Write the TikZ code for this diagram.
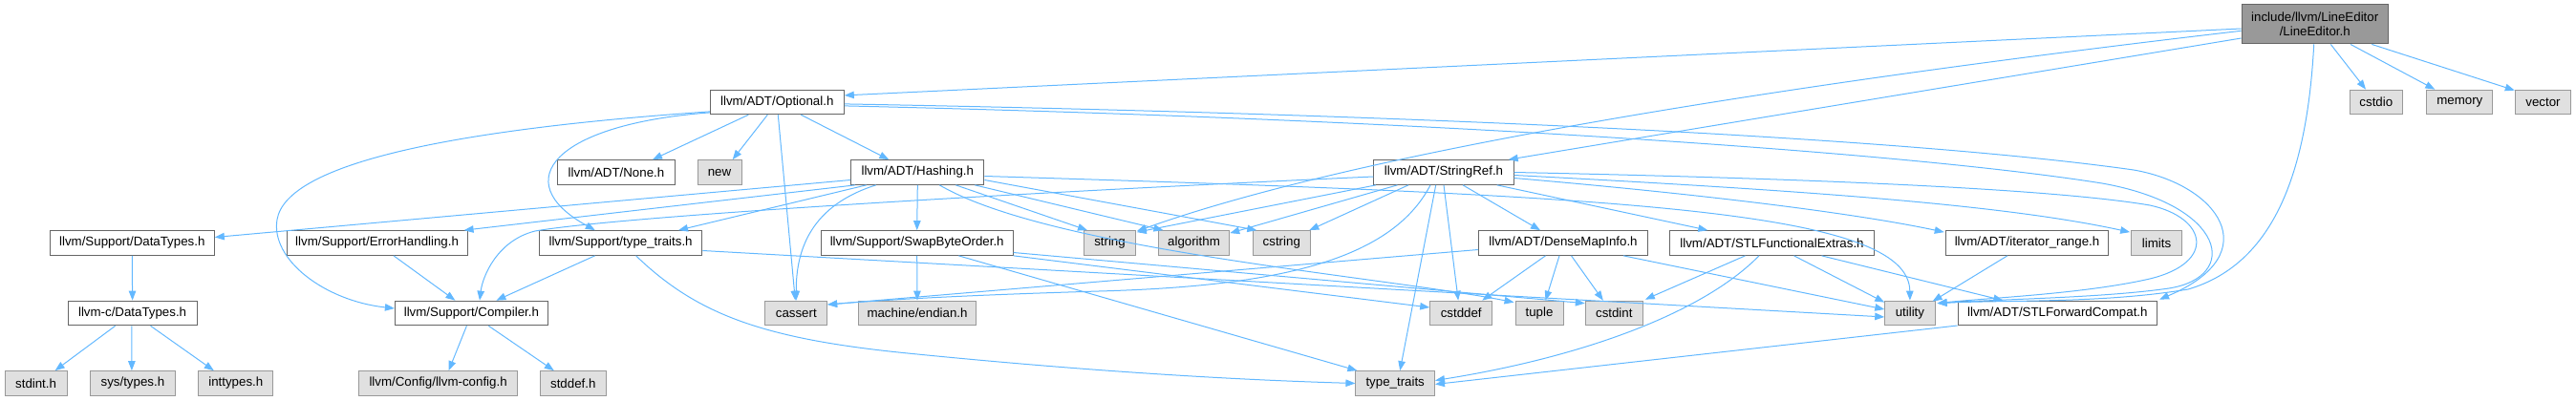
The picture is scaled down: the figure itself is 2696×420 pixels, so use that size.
\documentclass[tikz,border=0pt]{standalone}
\usepackage{fontspec}
\setmainfont{Liberation Sans}
\usetikzlibrary{arrows.meta,calc}
\definecolor{eb}{HTML}{63B8FF}
\definecolor{bdark}{HTML}{666666}
\definecolor{bext}{HTML}{999999}
\definecolor{fext}{HTML}{E0E0E0}
\definecolor{fmain}{HTML}{999999}
\tikzset{
  hdr/.style={draw=bdark, fill=white, line width=1pt, minimum height=25.7pt, inner sep=0pt,
    minimum width=#1, font=\fontsize{13.3}{15.3}\selectfont, text=black},
  sys/.style={hdr=#1, draw=bext, fill=fext},
  mainf/.style={hdr=#1, draw=bdark, fill=fmain},
  e/.style={draw=eb, line width=1pt, -{Triangle[length=10pt,width=7.5pt]}},
}
\begin{document}
\begin{tikzpicture}[x=1pt,y=-1pt]
\useasboundingbox (0,0) rectangle (2696,420);
% row 0
\node[mainf=153.3pt, minimum height=41.3pt, align=center] (le) at (2422.7,25.3) {include/llvm/LineEditor\\/LineEditor.h};
% row 1
\node[hdr=140pt] (opt) at (813.3,106.9) {llvm/ADT/Optional.h};
\node[sys=55pt] (cstdio) at (2486.8,107) {cstdio};
\node[sys=68.7pt] (memory) at (2574.3,107) {memory};
\node[sys=58.4pt] (vector) at (2661.5,107) {vector};
% row 2
\node[hdr=123pt] (none) at (645,180.5) {llvm/ADT/None.h};
\node[sys=46pt] (new) at (753,180.5) {new};
\node[hdr=139.3pt] (hash) at (960.3,180.5) {llvm/ADT/Hashing.h};
\node[hdr=146.4pt] (sref) at (1511,180.5) {llvm/ADT/StringRef.h};
% row 3
\node[hdr=172pt] (dtypes) at (138.3,254.5) {llvm/Support/DataTypes.h};
\node[hdr=189pt] (err) at (394.6,254.5) {llvm/Support/ErrorHandling.h};
\node[hdr=170.6pt] (tt) at (649.6,254.5) {llvm/Support/type\_traits.h};
\node[hdr=200.7pt] (swap) at (959.7,254.5) {llvm/Support/SwapByteOrder.h};
\node[sys=53.6pt] (string) at (1161.5,254.5) {string};
\node[sys=74.5pt] (algorithm) at (1249.5,254.5) {algorithm};
\node[sys=60.2pt] (cstring) at (1341.3,254.5) {cstring};
\node[hdr=177pt] (dmi) at (1636,254.5) {llvm/ADT/DenseMapInfo.h};
\node[hdr=213.3pt] (sfe) at (1854.5,254.5) {llvm/ADT/STLFunctionalExtras.h};
\node[hdr=170.5pt] (iter) at (2121.5,254.5) {llvm/ADT/iterator\_range.h};
\node[sys=52.7pt] (limits) at (2257,254.5) {limits};
% row 4
\node[hdr=134.8pt] (ctypes) at (138.6,328) {llvm-c/DataTypes.h};
\node[hdr=160pt] (comp) at (493.4,328) {llvm/Support/Compiler.h};
\node[sys=64.7pt] (cassert) at (833.3,328) {cassert};
\node[sys=123.4pt] (endian) at (960,328) {machine/endian.h};
\node[sys=65pt] (cstddef) at (1529.2,328) {cstddef};
\node[sys=50pt] (tuple) at (1611,328) {tuple};
\node[sys=60pt] (cstdint) at (1689.3,328) {cstdint};
\node[sys=52.3pt] (utility) at (1998.9,328) {utility};
\node[hdr=208.5pt] (sfc) at (2153.3,328) {llvm/ADT/STLForwardCompat.h};
% row 5
\node[sys=64.8pt] (stdint) at (37.6,401.5) {stdint.h};
\node[sys=89.6pt] (systypes) at (138.9,401.5) {sys/types.h};
\node[sys=78pt] (inttypes) at (246.8,401.5) {inttypes.h};
\node[sys=165.3pt] (llvmconfig) at (458.6,401.5) {llvm/Config/llvm-config.h};
\node[sys=68.9pt] (stddef) at (599.8,401.5) {stddef.h};
\node[sys=82.6pt] (ttstd) at (1460.2,401.5) {type\_traits};

% ---- LineEditor.h
\draw[e] ($(le.west)+(0,4.7)$) -- ($(opt.east)+(0,-7)$);
\draw[e] ($(le.west)+(0,7)$) .. controls (1850,90) and (1420,160) .. ($(string.north east)+(1,1)$);
\draw[e] ($(le.west)+(0,14.7)$) -- ($(sref.north east)+(-6,0)$);
\draw[e] ($(le.south)+(16.6,0)$) -- ($(cstdio.north)+(-10.8,0)$);
\draw[e] ($(le.south)+(37.3,0)$) -- ($(memory.north)+(-26,0)$);
\draw[e] ($(le.south)+(59.6,0)$) -- ($(vector.north west)+(0,1)$);
\draw[e] ($(le.south)+(-1,0)$) .. controls (2415,170) and (2385,275) .. (2290,303) .. controls (2200,318) and (2100,314) .. ($(utility.north east)+(2,3)$);
% ---- Optional.h
\draw[e] ($(opt.south)+(-30,0)$) -- ($(none.north)+(38,0)$);
\draw[e] ($(opt.south)+(-10,0)$) -- ($(new.north)+(13.7,0)$);
\draw[e] ($(opt.south)+(1,0)$) -- ($(cassert.north)+(-1,0)$);
\draw[e] ($(opt.south)+(25,0)$) -- ($(hash.north)+(-30,0)$);
\draw[e] ($(opt.west)+(0,10)$) .. controls (480,135) and (300,170) .. (290,230) .. controls (283,272) and (340,315) .. ($(comp.west)+(0,-5)$);
\draw[e] ($(opt.west)+(0,11)$) .. controls (580,130) and (530,190) .. ($(tt.north)+(-26.8,0)$);
\draw[e] ($(opt.east)+(0,2)$) .. controls (1500,120) and (2000,145) .. (2233,178) .. controls (2320,193) and (2375,265) .. ($(sfc.north east)+(2,-1)$);
\draw[e] ($(opt.east)+(0,4)$) .. controls (1500,125) and (2000,160) .. (2200,192) .. controls (2330,215) and (2345,290) .. (2270,302) .. controls (2200,312) and (2100,313) .. ($(utility.north east)+(2,3)$);
% ---- Hashing.h
\draw[e] ($(hash.west)+(0,8)$) -- ($(dtypes.east)+(0,-6)$);
\draw[e] ($(hash.south west)+(5,0)$) -- ($(err.north east)+(-4,0)$);
\draw[e] ($(hash.south)+(-53.6,0)$) -- ($(tt.north)+(60.4,0)$);
\draw[e] (hash.south) -- (swap.north);
\draw[e] ($(hash.south)+(-43.6,0)$) .. controls (850,215) and (833,260) .. (cassert.north);
\draw[e] ($(hash.south)+(40,0)$) -- ($(string.north)+(-23.5,0)$);
\draw[e] ($(hash.south)+(60,0)$) -- ($(algorithm.north)+(-32,0)$);
\draw[e] ($(hash.east)+(0,8)$) -- ($(cstring.north)+(-26,0)$);
\draw[e] ($(hash.south)+(23,0)$) .. controls (1100,262) and (1450,290) .. ($(tuple.north west)+(-1,2)$);
\draw[e] ($(hash.east)+(0,4)$) .. controls (1700,205) and (1998,220) .. (utility.north);
% ---- StringRef.h
\draw[e] ($(sref.south)+(20,0)$) -- ($(dmi.north)+(-24,0)$);
\draw[e] ($(sref.south east)+(-18,0)$) -- ($(sfe.north west)+(40,0)$);
\draw[e] ($(sref.east)+(0,6)$) .. controls (1800,205) and (1950,225) .. ($(iter.north west)+(-1,2)$);
\draw[e] ($(sref.east)+(0,3)$) .. controls (1900,200) and (2100,215) .. ($(limits.north west)+(-1,2)$);
\draw[e] (sref.east) .. controls (1900,187) and (2150,198) .. (2250,215) .. controls (2310,228) and (2320,275) .. (2250,292) .. controls (2180,308) and (2080,312) .. ($(utility.north east)+(2,3)$);
\draw[e] ($(sref.south)+(-37,0)$) -- ($(cstring.north)+(29,0)$);
\draw[e] ($(sref.south)+(-48.5,0)$) -- ($(algorithm.north east)+(0,3)$);
\draw[e] ($(sref.south)+(-71,0)$) -- ($(string.north east)+(1,2)$);
\draw[e] ($(sref.south)+(-8.3,0)$) -- ($(ttstd.north)+(5,0)$);
\draw[e] (sref.south) -- ($(cstddef.north)+(-3,0)$);
\draw[e] ($(sref.south)+(-14,0)$) .. controls (1455,275) and (1330,300) .. (1150,305) .. controls (1050,308) and (950,312) .. ($(cassert.east)+(0,-9)$);
\draw[e] ($(sref.west)+(0,4.5)$) .. controls (1000,205) and (640,228) .. (560,242) .. controls (520,252) and (505,290) .. ($(comp.north)+(8.6,0)$);
% ---- DataTypes
\draw[e] (dtypes.south) -- (ctypes.north);
\draw[e] ($(ctypes.south)+(-18,0)$) -- ($(stdint.north)+(20,0)$);
\draw[e] ($(ctypes.south)+(-0.8,0)$) -- ($(systypes.north)+(-1,0)$);
\draw[e] ($(ctypes.south)+(19,0)$) -- ($(inttypes.north)+(-23,0)$);
% ---- ErrorHandling / type_traits.h / Compiler
\draw[e] ($(err.south)+(17.4,0)$) -- ($(comp.north)+(-17,0)$);
\draw[e] ($(tt.south)+(-27,0)$) -- ($(comp.north)+(26,0)$);
\draw[e] ($(tt.south)+(16,0)$) .. controls (730,330) and (800,355) .. (950,370) .. controls (1150,390) and (1300,398) .. (ttstd.west);
\draw[e] ($(tt.east)+(0,8)$) -- ($(utility.west)+(0,4)$);
\draw[e] ($(comp.south)+(-5,0)$) -- ($(llvmconfig.north)+(11,0)$);
\draw[e] ($(comp.south)+(18,0)$) -- ($(stddef.north)+(-20,0)$);
% ---- SwapByteOrder.h
\draw[e] (swap.south) -- (endian.north);
\draw[e] ($(swap.south)+(43.6,0)$) -- ($(ttstd.north west)+(2,0)$);
\draw[e] ($(swap.east)+(0,10)$) -- ($(cstdint.north west)+(0,3)$);
\draw[e] (swap.south east) -- ($(cstddef.west)+(0,-6)$);
% ---- DenseMapInfo.h
\draw[e] ($(dmi.west)+(0,7)$) -- ($(cassert.east)+(0,-9)$);
\draw[e] ($(dmi.south)+(-18.5,0)$) -- ($(cstddef.north)+(22,0)$);
\draw[e] ($(dmi.south)+(-4,0)$) -- ($(tuple.north)+(6.5,0)$);
\draw[e] ($(dmi.south)+(8.5,0)$) -- ($(cstdint.north)+(-11.5,0)$);
\draw[e] ($(dmi.south)+(63,0)$) -- ($(utility.west)+(0,-4)$);
% ---- STLFunctionalExtras.h
\draw[e] ($(sfe.south)+(-28,0)$) -- ($(cstdint.north east)+(2,-1)$);
\draw[e] ($(sfe.south)+(-13.5,0)$) .. controls (1780,330) and (1650,375) .. ($(ttstd.east)+(0,-3)$);
\draw[e] ($(sfe.south)+(23,0)$) -- ($(utility.north west)+(0,2)$);
\draw[e] ($(sfe.south)+(52,0)$) -- ($(sfc.north)+(-57,0)$);
% ---- iterator_range.h / STLForwardCompat.h
\draw[e] ($(iter.south)+(-20.6,0)$) -- ($(utility.north east)+(-3,1)$);
\draw[e] ($(sfc.west)+(0,13)$) -- ($(ttstd.east)+(0,1)$);
\end{tikzpicture}
\end{document}
